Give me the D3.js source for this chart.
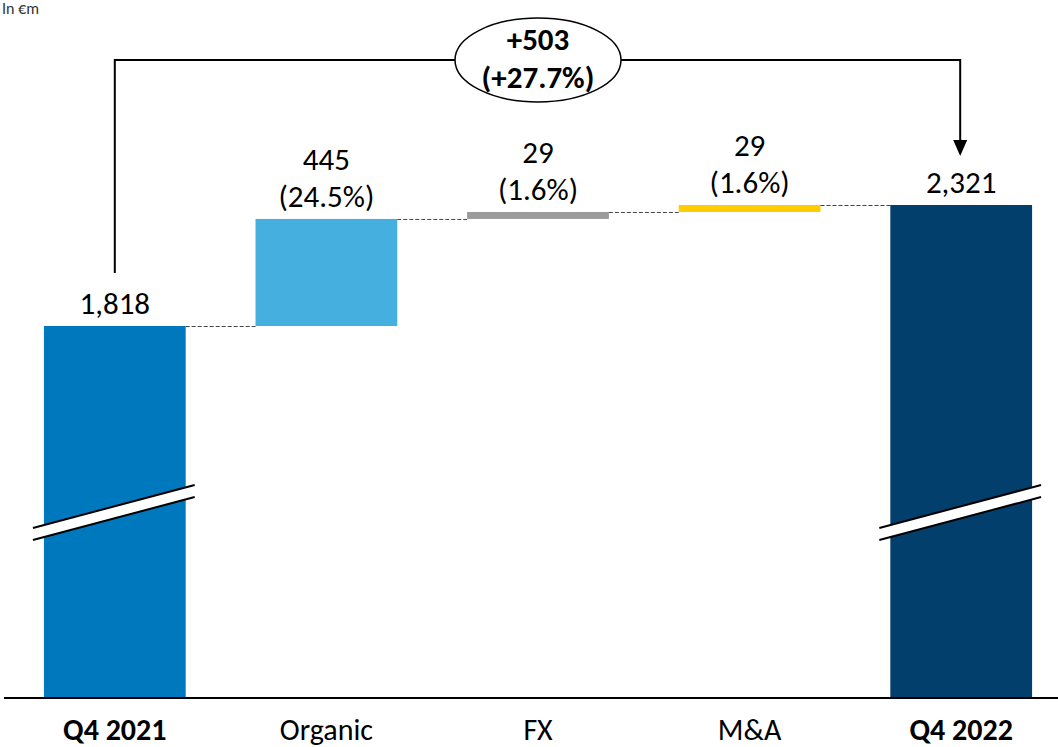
<!DOCTYPE html>
<html>
<head>
<meta charset="utf-8">
<script src="https://cdn.jsdelivr.net/npm/d3@7"></script>
<style>
  body { margin: 0; background: #fff; }
  text { font-family: Carlito, Calibri, "Open Sans", sans-serif; }
</style>
</head>
<body>
<div class="container"></div>
<script>
const categories = ['Q4 2021', 'Organic', 'FX', 'M&A', 'Q4 2022'];
const starts = [0, 1818, 2263, 2292, 0];
const ends = [1818, 2263, 2292, 2321, 2321];
const valueLabels = ['1,818', '445', '29', '29', '2,321'];
const pctLabels = ['', '(24.5%)', '(1.6%)', '(1.6%)', ''];
const colors = ['#0078be', '#45b0e0', '#9b9b9b', '#ffcc00', '#023f6d'];
const boldCat = [true, false, false, false, true];
const totalLabel = ['+503', '(+27.7%)'];

const width = 1058;
const height = 747;
const baseY = 697;
const fs = 31;

const svg = d3.select('.container')
  .append('svg')
  .attr('width', width)
  .attr('height', height);

const xScale = d3.scaleBand()
  .domain(categories)
  .range([9, 1067])
  .paddingInner(0.33)
  .paddingOuter(0.165);

// broken axis: the scale starts above zero
const yScale = d3.scaleLinear()
  .domain([276, 2321])
  .range([baseY, 205]);

const yb = v => v === 0 ? baseY : yScale(v);

const data = categories.map((c, i) => ({c, s: starts[i], e: ends[i], i}));

svg.selectAll('rect.bar')
  .data(data)
  .enter()
  .append('rect')
  .attr('class', 'bar')
  .attr('x', d => xScale(d.c))
  .attr('width', xScale.bandwidth())
  .attr('y', d => yScale(d.e))
  .attr('height', d => yb(d.s) - yScale(d.e))
  .attr('fill', (d, i) => colors[i]);

// dashed connectors
for (let i = 0; i < categories.length - 1; i++) {
  const y = yScale(ends[i]);
  svg.append('line')
    .attr('x1', xScale(categories[i]) + xScale.bandwidth())
    .attr('x2', xScale(categories[i + 1]))
    .attr('y1', y + 0.5).attr('y2', y + 0.5)
    .attr('stroke', '#444')
    .attr('stroke-width', 1)
    .attr('stroke-dasharray', '4,2');
}

// axis break marks on total bars
[0, 4].forEach(i => {
  const x0 = xScale(categories[i]) - 11;
  const x1 = xScale(categories[i]) + xScale.bandwidth() + 9;
  const g = svg.append('g');
  g.append('polygon')
    .attr('points', `${x0},528 ${x1},485 ${x1},497 ${x0},540`)
    .attr('fill', '#fff');
  [[528, 485], [540, 497]].forEach(([a, b]) => {
    g.append('line')
      .attr('x1', x0).attr('y1', a)
      .attr('x2', x1).attr('y2', b)
      .attr('stroke', '#000').attr('stroke-width', 2);
  });
});

// baseline
svg.append('line')
  .attr('x1', 4).attr('x2', width)
  .attr('y1', baseY + 1).attr('y2', baseY + 1)
  .attr('stroke', '#000').attr('stroke-width', 2);

// category labels
svg.selectAll('text.cat')
  .data(data)
  .enter()
  .append('text')
  .attr('class', 'cat')
  .attr('x', d => xScale(d.c) + xScale.bandwidth() / 2)
  .attr('y', 740)
  .attr('text-anchor', 'middle')
  .attr('font-size', fs - 1)
  .attr('font-weight', (d, i) => boldCat[i] ? 'bold' : 'normal')
  .attr('fill', '#000')
  .text(d => d.c);

// value labels
data.forEach((d, i) => {
  const cx = xScale(d.c) + xScale.bandwidth() / 2;
  const top = yScale(d.e);
  const lines = pctLabels[i] ? [valueLabels[i], pctLabels[i]] : [valueLabels[i]];
  lines.forEach((t, j) => {
    svg.append('text')
      .attr('x', cx)
      .attr('y', top - 12 - (lines.length - 1 - j) * 37)
      .attr('text-anchor', 'middle')
      .attr('font-size', fs)
      .attr('fill', '#000')
      .text(t);
  });
});

// total change bracket
const xa = xScale(categories[0]) + xScale.bandwidth() / 2;
const xe = xScale(categories[4]) + xScale.bandwidth() / 2;
const topY = 60;
const cx = 538, rx = 83, ry = 42;

svg.append('path')
  .attr('d', `M${xa},273 V${topY} H${cx - rx}`)
  .attr('fill', 'none').attr('stroke', '#000').attr('stroke-width', 2);

svg.append('path')
  .attr('d', `M${cx + rx},${topY} H${xe - 1} V145`)
  .attr('fill', 'none').attr('stroke', '#000').attr('stroke-width', 2);

svg.append('path')
  .attr('d', `M${xe - 8},140 L${xe - 1},156 L${xe + 6},140 z`)
  .attr('fill', '#000');

svg.append('ellipse')
  .attr('cx', cx).attr('cy', topY)
  .attr('rx', rx).attr('ry', ry)
  .attr('fill', '#fff').attr('stroke', '#000').attr('stroke-width', 1.5);

totalLabel.forEach((t, j) => {
  svg.append('text')
    .attr('x', cx)
    .attr('y', 50 + j * 38)
    .attr('text-anchor', 'middle')
    .attr('font-size', fs)
    .attr('font-weight', 'bold')
    .text(t);
});

// unit label in the top-left corner
svg.append('text')
  .attr('x', 2)
  .attr('y', 14)
  .attr('font-size', 16)
  .attr('fill', '#333')
  .text('In €m');
</script>
</body>
</html>
